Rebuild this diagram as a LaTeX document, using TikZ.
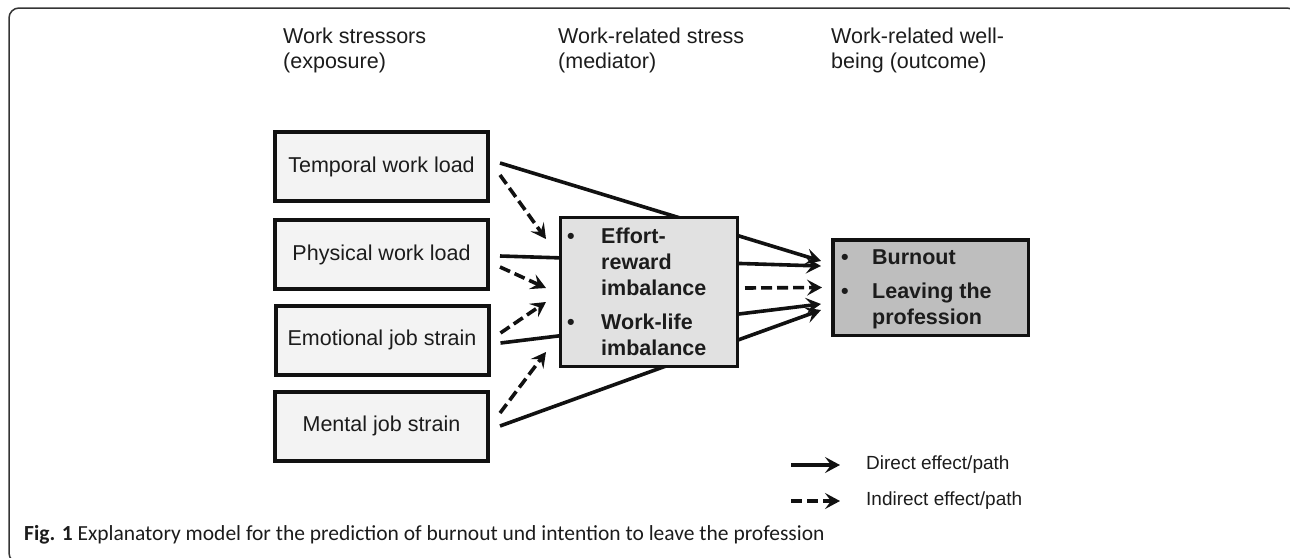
\documentclass[tikz,border=0pt]{standalone}
\usepackage{fontspec}
\setmainfont{Liberation Sans}
\newfontfamily\capfont{Carlito}
\usetikzlibrary{arrows.meta,calc}
\newcommand\myfs[2]{\fontsize{#1}{#2}\selectfont}
\definecolor{sfill}{HTML}{F3F3F3}
\definecolor{mfill}{HTML}{E1E1E1}
\definecolor{ofill}{HTML}{BEBEBE}
\definecolor{ink}{HTML}{111111}
\definecolor{txt}{HTML}{1C1C1C}
\tikzset{
  stressor/.style={draw=ink, line width=4pt, fill=sfill, minimum width=213pt, minimum height=69pt, inner sep=0pt, font=\myfs{21.5}{26}, text=txt},
  medbox/.style={draw=ink, line width=3pt, fill=mfill, minimum width=177pt, minimum height=149pt, inner sep=0pt},
  outbox/.style={draw=ink, line width=3.5pt, fill=ofill, minimum width=195.5pt, minimum height=95.5pt, inner sep=0pt},
  direct/.style={draw=ink, line width=3.6pt, -{Stealth[length=15pt,width=16pt,inset=6pt]}},
  indirect/.style={direct, dash pattern=on 11pt off 5pt},
  head/.style={anchor=base west, inner sep=0pt, font=\myfs{21.5}{25}, text=txt},
  boxtxt/.style={anchor=base west, inner sep=0pt, font=\bfseries\myfs{21.5}{26}, text=txt},
  legtxt/.style={anchor=west, inner sep=0pt, font=\myfs{19}{23}, text=txt}
}
\begin{document}
\begin{tikzpicture}[x=1pt,y=-1pt]
\useasboundingbox (0,0) rectangle (1290,557);
% frame
\draw[line width=1.5pt, draw=ink!85, rounded corners=10pt] (9,8) rectangle (1297,563);
% headers
\node[head] (h1) at (283,43) {\begin{tabular}[t]{@{}l@{}}Work stressors\\(exposure)\end{tabular}};
\node[head] (h2) at (558,43) {\begin{tabular}[t]{@{}l@{}}Work-related stress\\(mediator)\end{tabular}};
\node[head] (h3) at (831,43) {\begin{tabular}[t]{@{}l@{}}Work-related well-\\being (outcome)\end{tabular}};
% stressors
\node[stressor] (T) at (381.5,166.5) {Temporal work load};
\node[stressor] (P) at (381.5,254.5) {Physical work load};
\node[stressor] (E) at (382,340) {Emotional job strain};
\node[stressor] (Mt) at (381.5,426) {Mental job strain};
% outcome
\node[outbox] (O) at (930.5,287.5) {};
\node[boxtxt] (otxt) at (841,264) {\begin{tabular}[t]{@{}p{31pt}@{}l@{}}•&Burnout\\[8pt]•&Leaving the\\&profession\end{tabular}};
% direct arrows (behind mediator)
\draw[direct] ($(T.east)+(10,-3.5)$) -- ($(O.west)+(-10,-26.5)$);
\draw[direct] ($(P.east)+(10,1.5)$) -- ($(O.west)+(-10,-21.5)$);
\draw[direct] ($(E.east)+(10,3)$) -- ($(O.west)+(-10,16.5)$);
\draw[direct] ($(Mt.east)+(10,0)$) -- ($(O.west)+(-10,22.5)$);
% mediator
\node[medbox] (M) at (649,292) {};
\node[boxtxt] (mtxt) at (567,243.5) {\begin{tabular}[t]{@{}p{34pt}@{}l@{}}•&Effort-\\&reward\\&imbalance\\[8pt]•&Work-life\\&imbalance\end{tabular}};
% indirect arrows
\draw[indirect] ($(T.east)+(10,8.5)$) -- ($(M.west)+(-13,-53)$);
\draw[indirect] ($(P.east)+(10,12.5)$) -- ($(M.west)+(-13,-4)$);
\draw[indirect] ($(E.east)+(10,-7)$) -- ($(M.west)+(-13,10)$);
\draw[indirect] ($(Mt.east)+(10,-13)$) -- ($(M.west)+(-13,60)$);
\draw[indirect] ($(M.east)+(6,-4)$) -- ($(O.west)+(-9,0)$);
% legend
\node[legtxt] (ld) at (866,465) {Direct effect/path};
\node[legtxt] (li) at (866,501) {Indirect effect/path};
\draw[direct] ($(ld.west)+(-75,0)$) -- ($(ld.west)+(-26,0)$);
\draw[indirect] ($(li.west)+(-75,0)$) -- ($(li.west)+(-26,0)$);
% caption
\node[anchor=base west, inner sep=0pt, font=\capfont\myfs{21.5}{25}, text=txt] (cap) at (24,540) {\textbf{Fig. 1} Explanatory model for the prediction of burnout und intention to leave the profession};
\end{tikzpicture}
\end{document}
